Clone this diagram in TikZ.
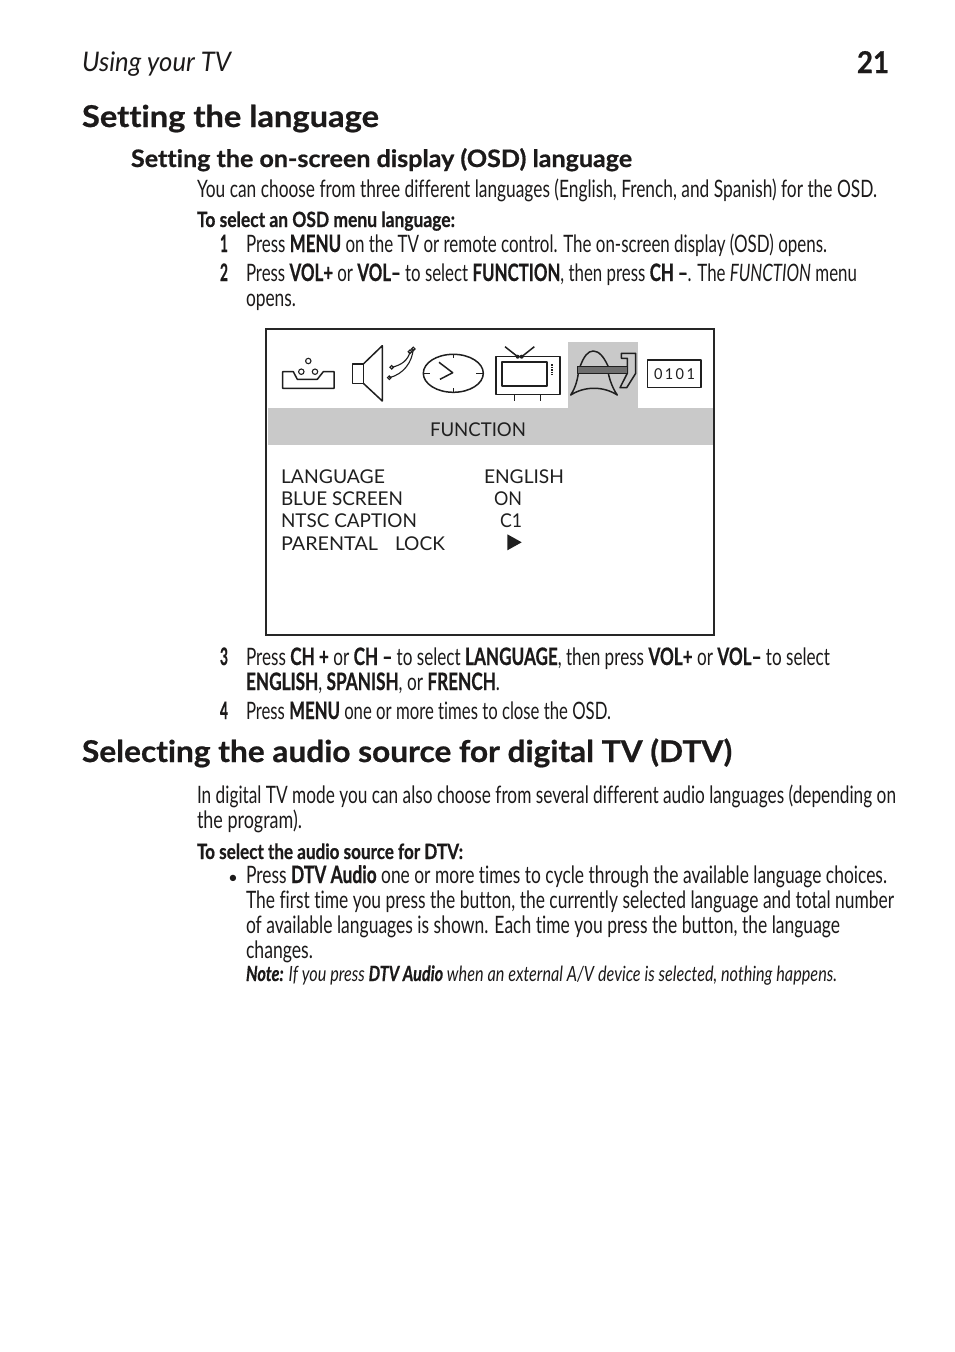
\documentclass[tikz,border=0pt]{standalone}
\usepackage{fontspec}
\usepackage{graphicx}
\setmainfont{Lato}[Ligatures=NoCommon,BoldFeatures={FakeBold=0.7},BoldItalicFeatures={FakeBold=0.7}]
\definecolor{inktext}{HTML}{1C1A1A}
\definecolor{osdgrey}{HTML}{C9C9C9}
\definecolor{bargrey}{HTML}{6E6E6E}
\tikzset{
  pagetext/.style={inner sep=0pt,outer sep=0pt,anchor=base west,text=inktext},
  osdtext/.style={inner sep=0pt,outer sep=0pt,anchor=base west,text=black!88},
  icon/.style={draw=black!88,line width=1.5pt,line join=round},
  iconthin/.style={draw=black!88,line width=1.1pt}
}
\newcommand{\bodyf}{\fontsize{24}{24}\selectfont}
\newcommand{\subf}{\fontsize{21}{21}\selectfont\bfseries}
\newcommand{\headf}{\fontsize{30}{30}\selectfont\bfseries}
\newcommand{\osdf}{\fontsize{19}{19}\selectfont}
% name, x, baseline y, width, text
\newcommand{\tl}[5]{\node[pagetext] (#1) at (#2,#3) {\resizebox{#4pt}{\height}{#5}};}
\newcommand{\ol}[5]{\node[osdtext] (#1) at (#2,#3) {\resizebox{#4pt}{\height}{\osdf #5}};}
\begin{document}
\begin{tikzpicture}[x=1pt,y=-1pt]
\useasboundingbox[fill=white] (0,0) rectangle (954,1352);
% running head
\tl{runhead}{82}{71}{149}{\fontsize{27}{27}\selectfont\itshape Using your TV}
\tl{pagenum}{857}{73}{32}{\fontsize{30}{30}\selectfont\bfseries 21}
\tl{h1}{82}{127}{297}{\headf Setting the language}
\tl{h2}{131}{167}{501}{\fontsize{24}{24}\selectfont\bfseries Setting the on-screen display (OSD) language}
\tl{p1}{197}{197}{680}{\bodyf You can choose from three different languages (English, French, and Spanish) for the OSD.}
\tl{s1}{197}{227}{258}{\subf To select an OSD menu language:}
\tl{n1}{220}{252}{8}{\bodyf\bfseries 1}
\tl{l1}{246}{252}{581}{\bodyf Press \textbf{MENU} on the TV or remote control. The on-screen display (OSD) opens.}
\tl{n2}{220}{281}{8}{\bodyf\bfseries 2}
\tl{l2}{246}{281}{611}{\bodyf Press \textbf{VOL+} or \textbf{VOL–} to select \textbf{FUNCTION}, then press \textbf{CH –}. The \textit{FUNCTION} menu}
\tl{l2b}{246}{306}{50}{\bodyf opens.}
% OSD screenshot
\fill[osdgrey] (268,407.5) rectangle (712.5,445);
\fill[osdgrey] (567.7,342.3) rectangle (638.3,407.5);
\draw[black!85,line width=1.3pt] (266,329) rectangle (714,635);
% tray icon
\draw[icon] (282.7,371.7) -- (293.3,371.7) -- (297.3,379.3) -- (317.3,379.3) -- (323.3,371.7) -- (334,371.7) -- (334,388.3) -- (282.7,388.3) -- cycle;
\draw[iconthin] (308.3,361) circle (2.7) (301.3,371.7) circle (2.7) (315,371.7) circle (2.7);
% speaker icon
\draw[icon] (352.3,364) rectangle (363.3,383.3);
\draw[icon] (363.3,364) -- (382.3,345.7) -- (382.3,401) -- (363.3,383.3);
\draw[iconthin] (391.7,367.3) .. controls (402,365) and (408,360) .. (410,351.7);
\draw[iconthin] (389.3,377.7) .. controls (404,374) and (412,362) .. (413.3,349);
\draw[iconthin] (391.7,367.3) circle (1.8) (389.3,377.7) circle (1.8) (410,351.7) circle (1.8) (413.3,349) circle (1.8);
% clock icon
\draw[icon] (453.3,373.3) ellipse [x radius=30,y radius=19];
\draw[iconthin] (453.3,354.3) -- (453.3,358.3) (453.3,388.3) -- (453.3,392.3) (423.3,373.3) -- (430.3,373.3) (476.3,373.3) -- (483.3,373.3);
\draw[icon] (439,362.3) -- (452.7,372.7) -- (440,379.3);
% TV icon
\draw[icon] (496,356.7) rectangle (560,394.3);
\draw[icon,line width=1.8pt] (502.3,362.3) rectangle (546.7,386.3);
\draw[iconthin] (514.3,394.3) -- (514.3,401) (540.3,394.3) -- (540.3,401);
\draw[icon] (505,346.7) -- (517.7,356.7) (534.3,346.7) -- (521.7,356.7);
\fill[black!88] (517.7,356.7) circle (2) (521.7,356.7) circle (2);
\draw[black!88,line width=2.5pt,dash pattern=on 1.5pt off 1pt] (552,364.3) -- (552,375);
% function icon
\draw[icon] (580,366.7) .. controls (584,356) and (588,351) .. (593.3,351) .. controls (599,351) and (604,357) .. (608.3,366.7);
\draw[icon] (578.3,373.3) .. controls (577,383) and (574,390) .. (570.7,395) .. controls (585,386) and (603,386) .. (617.3,395) .. controls (613,389) and (610,381) .. (608.3,373.3);
\draw[icon] (621.3,353.3) -- (635.7,353.3) -- (635.7,373.3) -- (626.7,387.7) -- (620,387.7) -- (627.3,373.3) -- (627.3,358.3) -- (621.3,358.3) -- cycle;
\draw[icon,fill=bargrey] (577.3,366.7) rectangle (627.3,373.3);
% 0101 box
\draw[icon] (647.7,360) rectangle (701,387.3);
\ol{code}{654}{379.5}{41}{\fontsize{15}{15}\selectfont 0\,1\,0\,1}
% OSD text
\ol{fn}{430}{436}{96}{FUNCTION}
\ol{o1}{281}{483}{104}{LANGUAGE}
\ol{v1}{484}{483}{80}{ENGLISH}
\ol{o2}{281}{505}{122}{BLUE SCREEN}
\ol{v2}{494}{505}{28}{ON}
\ol{o3}{281}{527.5}{136}{NTSC CAPTION}
\ol{v3}{500}{527.5}{22}{C1}
\ol{o4}{281}{550}{97}{PARENTAL}
\ol{o4b}{395}{550}{50}{LOCK}
\fill[black!88] (507.3,534.3) -- (521.7,542.3) -- (507.3,550.3) -- cycle;
% after screenshot
\tl{n3}{220}{665}{8}{\bodyf\bfseries 3}
\tl{l3}{246}{665}{584}{\bodyf Press \textbf{CH +} or \textbf{CH –} to select \textbf{LANGUAGE}, then press \textbf{VOL+} or \textbf{VOL–} to select}
\tl{l3b}{246}{690}{254}{\bodyf \textbf{ENGLISH}, \textbf{SPANISH}, or \textbf{FRENCH}.}
\tl{n4}{220}{719}{8}{\bodyf\bfseries 4}
\tl{l4}{246}{719}{365}{\bodyf Press \textbf{MENU} one or more times to close the OSD.}
\tl{h3}{82}{762}{650}{\headf Selecting the audio source for digital TV (DTV)}
\tl{p2}{197}{803}{699}{\bodyf In digital TV mode you can also choose from several different audio languages (depending on}
\tl{p2b}{197}{828}{105}{\bodyf the program).}
\tl{s2}{197}{859}{266}{\subf To select the audio source for DTV:}
\node[pagetext] (bul) at (228,883) {\fontsize{17}{17}\selectfont •};
\tl{b1}{246}{883}{641}{\bodyf Press \textbf{DTV Audio} one or more times to cycle through the available language choices.}
\tl{b2}{246}{908}{648}{\bodyf The first time you press the button, the currently selected language and total number}
\tl{b3}{246}{933}{594}{\bodyf of available languages is shown. Each time you press the button, the language}
\tl{b4}{246}{958}{67}{\bodyf changes.}
\tl{note}{246}{981}{591}{\fontsize{21}{21}\selectfont\itshape \textbf{Note:} If you press \textbf{DTV Audio} when an external A/V device is selected, nothing happens.}
\end{tikzpicture}
\end{document}
